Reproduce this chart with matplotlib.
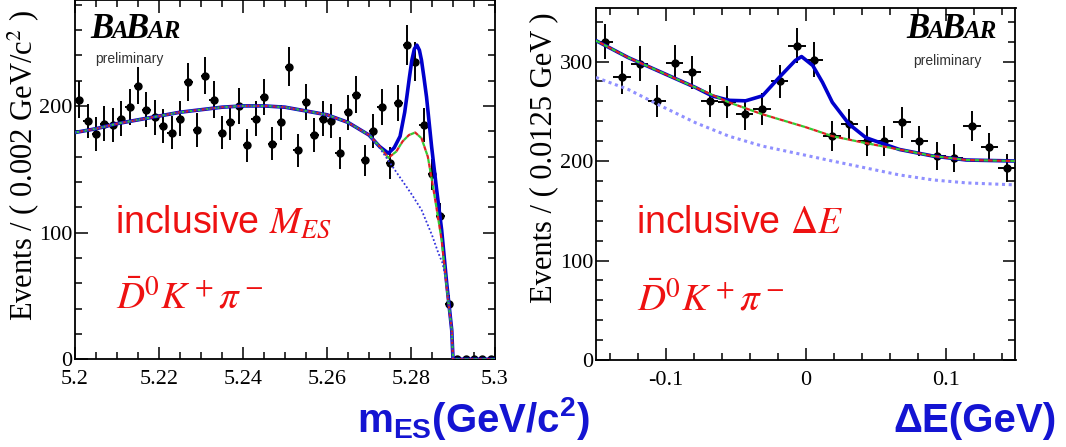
import numpy as np
import matplotlib
matplotlib.use('Agg')
import matplotlib.pyplot as plt
from matplotlib.ticker import MultipleLocator, FuncFormatter

plt.rcParams['font.family'] = 'Liberation Serif'
plt.rcParams['mathtext.fontset'] = 'stix'
plt.rcParams['mathtext.rm'] = 'Liberation Sans:bold'
plt.rcParams['mathtext.it'] = 'Liberation Sans:italic:bold'
plt.rcParams['mathtext.bf'] = 'Liberation Sans:bold'

W, H = 1066, 447

# ---- m_ES panel (bins of 0.002 from 5.2 to 5.3)
mes_lo, mes_hi, mes_bin = 5.2, 5.3, 0.002
mes_counts = [205, 188, 178, 186, 185, 190, 199, 216, 197, 191,
              184, 179, 190, 219, 181, 224, 205, 179, 187, 200,
              169, 190, 207, 170, 187, 231, 165, 203, 177, 190,
              188, 163, 195, 209, 157, 180, 199, 155, 202, 248,
              235, 185, 146, 113, 44, 0, 0, 0, 0, 0]

# fit curves
mes_bkg_x = [5.200, 5.205, 5.210, 5.215, 5.220, 5.225, 5.230, 5.235, 5.240, 5.245,
             5.250, 5.255, 5.260, 5.265, 5.270, 5.2725, 5.275, 5.2775, 5.280, 5.2825,
             5.285, 5.2865, 5.2875, 5.2885, 5.2895, 5.290, 5.300]
mes_bkg_y = [179, 182, 186, 189, 192, 195, 197, 199, 200, 200,
             199, 196, 193, 187, 177, 167, 155, 143, 131, 118,
             98, 84, 76, 60, 30, 0, 0]

mes_peak_x = [5.200, 5.205, 5.210, 5.215, 5.220, 5.225, 5.230, 5.235, 5.240, 5.245,
              5.250, 5.255, 5.260, 5.265, 5.270, 5.2725, 5.2746, 5.2765, 5.278, 5.2795,
              5.281, 5.2825, 5.284, 5.285, 5.286, 5.2873, 5.2885, 5.2897, 5.290, 5.300]
mes_peak_y = [179, 182, 186, 189, 192, 195, 197, 199, 200, 200,
              199, 196, 193, 187, 177, 168, 159, 164, 172, 177,
              179, 174.5, 160, 141, 121, 94, 57, 23, 0, 0]

mes_tot_x = [5.200, 5.205, 5.210, 5.215, 5.220, 5.225, 5.230, 5.235, 5.240, 5.245,
             5.250, 5.255, 5.260, 5.265, 5.270, 5.2725, 5.2746, 5.276, 5.2774, 5.2785,
             5.279, 5.2796, 5.2802, 5.2808, 5.2814, 5.2820, 5.2825, 5.2831, 5.2837, 5.2849,
             5.2861, 5.2873, 5.2885, 5.2897, 5.290, 5.300]
mes_tot_y = [179, 182, 186, 189, 192, 195, 197, 199, 200, 200,
             199, 196, 193, 187, 177, 168, 162.6, 167, 176, 195,
             207, 222, 236, 245, 248, 244, 236, 222, 207, 168,
             134, 102, 60, 23, 0, 0]

# ---- Delta E panel (bins of 0.0125 from -0.15 to 0.15)
de_lo, de_hi, de_bin = -0.15, 0.15, 0.0125
de_counts = [320, 284, 298, 260, 299, 289, 260, 259, 247, 252, 280, 316,
             302, 225, 237, 220, 220, 239, 220, 205, 203, 235, 214, 193]

de_bkg_x = [-0.150, -0.127, -0.103, -0.079, -0.055, -0.031, -0.0075, 0.019, 0.043,
            0.067, 0.091, 0.115, 0.150]
de_bkg_y = [284, 272, 255, 238.6, 225, 215, 208, 200, 193, 186, 181, 178, 176]

de_peak_x = [-0.150, -0.127, -0.103, -0.079, -0.055, -0.031, 0.000, 0.019, 0.043,
             0.067, 0.091, 0.115, 0.150]
de_peak_y = [321, 304, 289, 274, 259, 247, 234, 225, 218, 211.6, 205, 201, 200]

de_tot_x = [-0.150, -0.127, -0.103, -0.079, -0.067, -0.055, -0.043, -0.031, -0.019,
            -0.0075, -0.003, 0.005, 0.012, 0.019, 0.031, 0.043, 0.058, 0.067, 0.091,
            0.115, 0.150]
de_tot_y = [321, 304, 289, 274, 265.5, 261, 260.5, 265.5, 284, 301, 305, 296, 279,
            259, 237, 223.5, 216, 211.6, 205, 201, 200]

RED = '#ee1111'
BLUE_LBL = '#1414d2'

fig = plt.figure(figsize=(W / 100, H / 100), dpi=100)


def px_axes(x0, x1, ytop, ybot):
    return fig.add_axes([x0 / W, 1 - ybot / H, (x1 - x0) / W, (ybot - ytop) / H])


def style_axes(ax):
    ax.tick_params(which='both', direction='in', top=True, right=True,
                   labelsize=16, width=1.1)
    ax.tick_params(which='major', length=9)
    ax.tick_params(which='minor', length=5)
    ax.tick_params(axis='x', pad=8)
    ax.tick_params(axis='y', pad=2)
    ax.yaxis.set_major_locator(MultipleLocator(100))
    ax.yaxis.set_minor_locator(MultipleLocator(20))
    ax.xaxis.set_major_formatter(FuncFormatter(lambda v, p: '%g' % round(v, 4)))
    for s in ax.spines.values():
        s.set_linewidth(1.3)


def draw_data(ax, lo, binw, counts):
    counts = np.array(counts, dtype=float)
    x = lo + binw * (np.arange(len(counts)) + 0.5)
    ax.errorbar(x, counts, yerr=np.sqrt(counts), xerr=binw / 2, fmt='o', color='black',
                ms=5, elinewidth=1.4, capsize=0, zorder=3)


def draw_curves(ax, bx, by, px, py, tx, ty, dot_color, dot_lw):
    # full fit underneath, thinner dashed components on top so the blue shows through
    ax.plot(tx, ty, color='#0000cc', lw=2.6, zorder=4)
    ax.plot(px, py, color='#33cc33', lw=1.6, ls=(0, (2, 2)), zorder=5)
    ax.plot(px, py, color='#dd2222', lw=1.6, ls=(2, (2, 2)), zorder=5)
    ax.plot(bx, by, color=dot_color, lw=dot_lw, ls=(0, (1, 1.2)), zorder=6)


renderer = fig.canvas.get_renderer()


def babar(x, y):
    # BABAR logo: big B, small caps A/R, italic serif
    for txt, size in [('B', 25), ('A', 18), ('B', 25), ('AR', 18)]:
        t = fig.text(x / W, 1 - y / H, txt, fontsize=size, style='italic',
                     fontweight='bold', family='Liberation Serif',
                     va='baseline', ha='left')
        bb = t.get_window_extent(renderer)
        x = bb.x1 - 2
    return x


# ---- left panel
ax1 = px_axes(75, 495, 0, 359.3)
draw_data(ax1, mes_lo, mes_bin, mes_counts)
draw_curves(ax1, mes_bkg_x, mes_bkg_y, mes_peak_x, mes_peak_y, mes_tot_x, mes_tot_y,
            '#3333dd', 1.3)
ax1.set_xlim(mes_lo, mes_hi)
ax1.set_ylim(0, 283.6)
ax1.xaxis.set_major_locator(MultipleLocator(0.02))
ax1.xaxis.set_minor_locator(MultipleLocator(0.005))
style_axes(ax1)

# ---- right panel
ax2 = px_axes(596, 1015.5, 8, 360)
draw_data(ax2, de_lo, de_bin, de_counts)
draw_curves(ax2, de_bkg_x, de_bkg_y, de_peak_x, de_peak_y, de_tot_x, de_tot_y,
            '#9090ff', 2.2)
ax2.set_xlim(de_lo, de_hi)
ax2.set_ylim(0, 353.8)
ax2.xaxis.set_major_locator(MultipleLocator(0.1))
ax2.xaxis.set_minor_locator(MultipleLocator(0.02))
style_axes(ax2)

# y labels
fig.text(23 / W, 1 - 10 / H, r'Events / ( 0.002 GeV/c$^{2}$ )', rotation=90,
         ha='center', va='top', fontsize=22)
fig.text(544 / W, 1 - 12 / H, 'Events / ( 0.0125 GeV )', rotation=90,
         ha='center', va='top', fontsize=22)

# red annotations
fig.text(115 / W, 1 - 233 / H, r'inclusive $M_{ES}$', family='Liberation Sans',
         fontsize=27, color=RED, va='baseline')
fig.text(116 / W, 1 - 308 / H, r'$\bar{D}^0K^+\pi^-$', fontsize=28, color=RED,
         va='baseline')
fig.text(636 / W, 1 - 233 / H, r'inclusive $\Delta E$', family='Liberation Sans',
         fontsize=27, color=RED, va='baseline')
fig.text(637 / W, 1 - 310 / H, r'$\bar{D}^0K^+\pi^-$', fontsize=28, color=RED,
         va='baseline')

# BABAR logos
babar(90, 38)
fig.text(95 / W, 1 - 63 / H, 'preliminary', family='Liberation Sans', fontsize=10,
         color='#333333', va='baseline')
babar(906, 38)
fig.text(913 / W, 1 - 65 / H, 'preliminary', family='Liberation Sans', fontsize=10,
         color='#333333', va='baseline')

# blue axis titles
fig.text(357 / W, 1 - 432 / H, r'm$_{\rm ES}$(GeV/c$^{\rm 2}$)', family='Liberation Sans',
         fontweight='bold', fontsize=29, color=BLUE_LBL, va='baseline',
         math_fontfamily='custom')
fig.text(893 / W, 1 - 432 / H, 'ΔE(GeV)', family='Liberation Sans', fontweight='bold',
         fontsize=29, color=BLUE_LBL, va='baseline')

fig.savefig('out.png', dpi=100)
